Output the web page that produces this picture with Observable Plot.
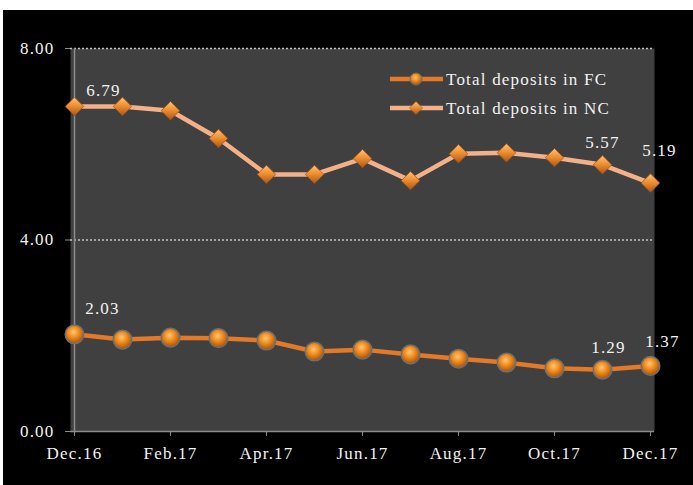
<!DOCTYPE html>
<html>
<head>
<meta charset="utf-8">
<script src="https://cdn.jsdelivr.net/npm/d3@7"></script>
<script src="https://cdn.jsdelivr.net/npm/@observablehq/plot@0.6"></script>
<style>
  html, body { margin: 0; padding: 0; background: #ffffff; }
  #chart { position: absolute; left: 3px; top: 10px; width: 690px; height: 475px; background: #000; }
  #chart svg text { letter-spacing: 1.2px; font-family: 'Liberation Serif', 'Times New Roman', serif; }
</style>
</head>
<body>
<div id="chart"></div>
<script>
const months = ["Dec.16","Jan.17","Feb.17","Mar.17","Apr.17","May.17","Jun.17","Jul.17","Aug.17","Sep.17","Oct.17","Nov.17","Dec.17"];
const fcValues = [2.03,1.92,1.96,1.95,1.90,1.67,1.71,1.61,1.52,1.44,1.32,1.29,1.37];
const ncValues = [6.79,6.79,6.70,6.12,5.37,5.37,5.70,5.24,5.80,5.82,5.72,5.57,5.19];
const xTickLabels = ["Dec.16","Feb.17","Apr.17","Jun.17","Aug.17","Oct.17","Dec.17"];
const yTickValues = [0, 4, 8];
const seriesNames = ["Total deposits in FC", "Total deposits in NC"];
const labelledMonths = ["Dec.16", "Nov.17", "Dec.17"];

const rows = months.map((m, i) => ({month: m, fc: fcValues[i], nc: ncValues[i]}));

const fcColor = "#E27A2A";
const ncColor = "#F4B088";
const textColor = "#f2f2f2";
const axisColor = "#8c8c8c";
const font = "'Liberation Serif', 'Times New Roman', serif";

// label offsets (styling only)
const ncOffsets = [[29, -16], [0, -22], [9, -32]];
const fcOffsets = [[28, -26], [6, -22], [12, -24]];

const labelMarks = [];
labelledMonths.forEach((m, k) => {
  const r = rows.filter(d => d.month === m);
  labelMarks.push(Plot.text(r, {x: "month", y: "nc", text: d => d.nc.toFixed(2), dx: ncOffsets[k][0], dy: ncOffsets[k][1], fill: textColor, fontSize: 17}));
  labelMarks.push(Plot.text(r, {x: "month", y: "fc", text: d => d.fc.toFixed(2), dx: fcOffsets[k][0], dy: fcOffsets[k][1], fill: textColor, fontSize: 17}));
});

const plot = Plot.plot({
  width: 690,
  height: 475,
  marginLeft: 67,
  marginRight: 39,
  marginTop: 38,
  marginBottom: 54,
  style: {background: "#000", color: textColor, fontFamily: font, fontSize: "17px", overflow: "visible"},
  x: {type: "point", domain: months, padding: 0},
  y: {domain: [0, 8]},
  marks: [
    Plot.frame({fill: "#404040", stroke: null}),
    Plot.ruleY([4, 8], {stroke: "#c4c4c4", strokeDasharray: "2,2", strokeWidth: 1.5}),
    Plot.ruleY([0], {stroke: axisColor, strokeWidth: 1.5}),
    Plot.ruleX([months[0]], {stroke: axisColor, strokeWidth: 1.5}),
    Plot.axisY({ticks: yTickValues, tickFormat: d => d.toFixed(2), tickSize: 5, tickPadding: 11, stroke: axisColor, fill: textColor, label: null, fontSize: 17}),
    Plot.axisX({ticks: xTickLabels, tickSize: 5, tickPadding: 10, stroke: axisColor, fill: textColor, label: null, fontSize: 17}),
    Plot.line(rows, {x: "month", y: "nc", stroke: ncColor, strokeWidth: 4.5}),
    Plot.line(rows, {x: "month", y: "fc", stroke: fcColor, strokeWidth: 4.5}),
    Plot.dot(rows, {x: "month", y: "nc", symbol: "diamond2", r: 8.3, fill: "url(#gDia)", stroke: "#a5561a", strokeWidth: 0.8}),
    Plot.dot(rows, {x: "month", y: "fc", r: 9.3, fill: "url(#gBall)", stroke: "#707070", strokeWidth: 1.5}),
    ...labelMarks
  ]
});

document.getElementById("chart").appendChild(plot);

const svg = d3.select(plot);
const defs = svg.insert("defs", ":first-child");
const gd = defs.append("linearGradient").attr("id", "gDia").attr("x1", 0).attr("y1", 0).attr("x2", 0).attr("y2", 1);
gd.append("stop").attr("offset", "0%").attr("stop-color", "#ffc27e");
gd.append("stop").attr("offset", "45%").attr("stop-color", "#f0902f");
gd.append("stop").attr("offset", "100%").attr("stop-color", "#a9561a");
const gb = defs.append("radialGradient").attr("id", "gBall").attr("cx", "45%").attr("cy", "38%").attr("r", "60%");
gb.append("stop").attr("offset", "0%").attr("stop-color", "#ffc47a");
gb.append("stop").attr("offset", "45%").attr("stop-color", "#f2901f");
gb.append("stop").attr("offset", "100%").attr("stop-color", "#a9560f");

// legend
const legend = svg.append("g").attr("font-family", font).attr("font-size", 17)
  .attr("fill", textColor).attr("text-anchor", "start");
const legendRows = [
  {name: seriesNames[0], color: fcColor, y: 69, kind: "ball"},
  {name: seriesNames[1], color: ncColor, y: 98, kind: "diamond"}
];
legendRows.forEach(r => {
  legend.append("line").attr("x1", 387).attr("x2", 440).attr("y1", r.y).attr("y2", r.y)
    .attr("stroke", r.color).attr("stroke-width", 4.5);
  if (r.kind === "ball") {
    legend.append("circle").attr("cx", 413).attr("cy", r.y).attr("r", 6)
      .attr("fill", "url(#gBall)").attr("stroke", "#707070").attr("stroke-width", 1);
  } else {
    legend.append("path").attr("d", d3.symbol(d3.symbolDiamond2, 110)()).attr("transform", `translate(413,${r.y})`)
      .attr("fill", "url(#gDia)").attr("stroke", "#a5561a").attr("stroke-width", 0.6);
  }
  legend.append("text").attr("x", 443).attr("y", r.y).attr("dy", "0.35em").attr("text-anchor", "start").text(r.name);
});
</script>
</body>
</html>
